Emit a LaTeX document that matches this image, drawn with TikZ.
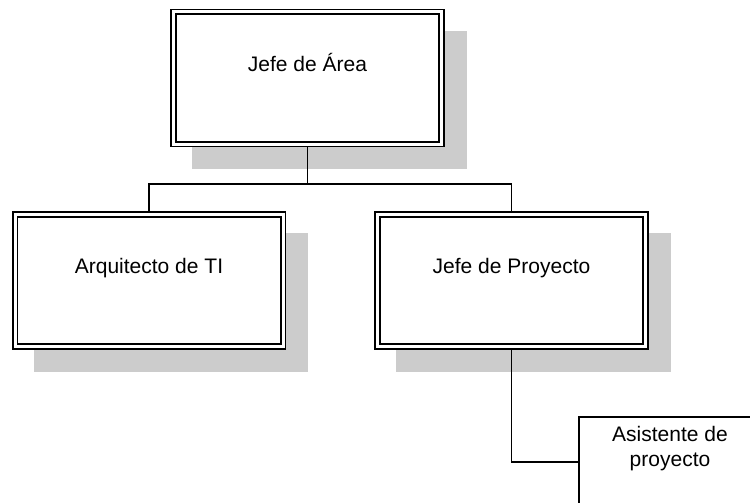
\documentclass[tikz,border=0pt]{standalone}
\usepackage{fontspec}
\setmainfont{Liberation Sans}
\usetikzlibrary{backgrounds}
\definecolor{shadowgray}{RGB}{204,204,204}
\begin{document}
\begin{tikzpicture}[x=1pt,y=-1pt,
  rolebox/.style={draw, double, line width=1.8pt, double distance=3pt, fill=white,
    minimum width=268pt, minimum height=132pt, outer sep=0pt, inner sep=0pt,
    text height=15pt, text depth=28.4pt, font=\fontsize{21}{25}\selectfont},
  asisbox/.style={fill=white, minimum width=240pt,
    minimum height=90pt, outer sep=0pt, inner sep=0pt},
  asisedge/.style={line width=1.8pt},
  asistext/.style={align=center, inner sep=0pt, font=\fontsize{21}{25}\selectfont},
  link/.style={line width=1.8pt},
  shadowbox/.style={fill=shadowgray}]
\useasboundingbox (0,0) rectangle (750,503);
\clip (0,0) rectangle (750,503);
\node[rolebox] (jefe) at (307.5,78) {Jefe de Área};
\node[rolebox] (arq) at (149,280.5) {Arquitecto de TI};
\node[rolebox] (jp) at (511.5,280.5) {Jefe de Proyecto};
\node[asisbox] (asis) at (699,462) {};
\draw[asisedge] (asis.south west) -- (asis.north west) -- (asis.north east);
\node[asistext] (asistxt) at ([xshift=91pt,yshift=13pt]asis.west) {Asistente de\\proyecto};
\coordinate (bus) at (307.5,184);
\begin{scope}[on background layer]
  \foreach \n in {jefe,arq,jp}
    \fill[shadowbox] ([shift={(18.8,18.8)}]\n.north west) rectangle ([shift={(25.2,25.2)}]\n.south east);
  \draw[link] (jefe.south) -- (bus);
  \draw[link] (arq.north) |- (bus) -| (jp.north);
  \draw[link] (jp.south) |- (asis.west);
\end{scope}
\end{tikzpicture}
\end{document}
